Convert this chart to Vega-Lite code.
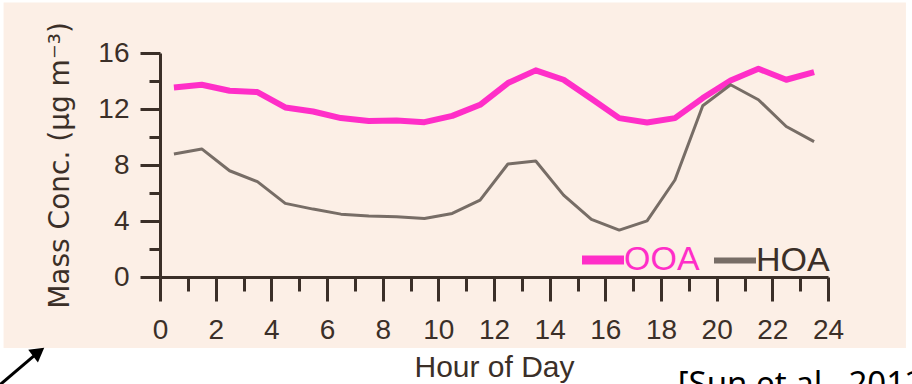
{
  "$schema": "https://vega.github.io/schema/vega-lite/v6.json",
  "width": 668,
  "height": 224,
  "autosize": {"type": "none"},
  "padding": {"left": 160, "top": 53, "right": 84, "bottom": 107},
  "background": "#ffffff",
  "config": {
    "view": {"stroke": null},
    "font": "Liberation Sans",
    "axis": {
      "zindex": 1,
      "grid": false,
      "domainColor": "#3b2f28",
      "domainWidth": 3,
      "tickColor": "#3b2f28",
      "tickWidth": 3,
      "labelColor": "#3b2f28",
      "labelFont": "Liberation Sans",
      "labelFontSize": 28,
      "labelFlush": false,
      "labelOverlap": false,
      "titleColor": "#3b2f28",
      "titleFontWeight": "normal"
    }
  },
  "datasets": {
    "diurnal": [
      {"hour": 0.5, "series": "OOA", "conc": 13.54},
      {"hour": 1.5, "series": "OOA", "conc": 13.73},
      {"hour": 2.5, "series": "OOA", "conc": 13.30},
      {"hour": 3.5, "series": "OOA", "conc": 13.21},
      {"hour": 4.5, "series": "OOA", "conc": 12.11},
      {"hour": 5.5, "series": "OOA", "conc": 11.82},
      {"hour": 6.5, "series": "OOA", "conc": 11.35},
      {"hour": 7.5, "series": "OOA", "conc": 11.15},
      {"hour": 8.5, "series": "OOA", "conc": 11.17},
      {"hour": 9.5, "series": "OOA", "conc": 11.06},
      {"hour": 10.5, "series": "OOA", "conc": 11.51},
      {"hour": 11.5, "series": "OOA", "conc": 12.30},
      {"hour": 12.5, "series": "OOA", "conc": 13.85},
      {"hour": 13.5, "series": "OOA", "conc": 14.76},
      {"hour": 14.5, "series": "OOA", "conc": 14.09},
      {"hour": 15.5, "series": "OOA", "conc": 12.73},
      {"hour": 16.5, "series": "OOA", "conc": 11.35},
      {"hour": 17.5, "series": "OOA", "conc": 11.03},
      {"hour": 18.5, "series": "OOA", "conc": 11.35},
      {"hour": 19.5, "series": "OOA", "conc": 12.78},
      {"hour": 20.5, "series": "OOA", "conc": 14.04},
      {"hour": 21.5, "series": "OOA", "conc": 14.88},
      {"hour": 22.5, "series": "OOA", "conc": 14.09},
      {"hour": 23.5, "series": "OOA", "conc": 14.64},
      {"hour": 0.5, "series": "HOA", "conc": 8.79},
      {"hour": 1.5, "series": "HOA", "conc": 9.15},
      {"hour": 2.5, "series": "HOA", "conc": 7.59},
      {"hour": 3.5, "series": "HOA", "conc": 6.81},
      {"hour": 4.5, "series": "HOA", "conc": 5.26},
      {"hour": 5.5, "series": "HOA", "conc": 4.85},
      {"hour": 6.5, "series": "HOA", "conc": 4.49},
      {"hour": 7.5, "series": "HOA", "conc": 4.35},
      {"hour": 8.5, "series": "HOA", "conc": 4.30},
      {"hour": 9.5, "series": "HOA", "conc": 4.18},
      {"hour": 10.5, "series": "HOA", "conc": 4.54},
      {"hour": 11.5, "series": "HOA", "conc": 5.49},
      {"hour": 12.5, "series": "HOA", "conc": 8.07},
      {"hour": 13.5, "series": "HOA", "conc": 8.29},
      {"hour": 14.5, "series": "HOA", "conc": 5.85},
      {"hour": 15.5, "series": "HOA", "conc": 4.11},
      {"hour": 16.5, "series": "HOA", "conc": 3.35},
      {"hour": 17.5, "series": "HOA", "conc": 4.01},
      {"hour": 18.5, "series": "HOA", "conc": 6.93},
      {"hour": 19.5, "series": "HOA", "conc": 12.23},
      {"hour": 20.5, "series": "HOA", "conc": 13.73},
      {"hour": 21.5, "series": "HOA", "conc": 12.66},
      {"hour": 22.5, "series": "HOA", "conc": 10.75},
      {"hour": 23.5, "series": "HOA", "conc": 9.67}
    ]
  },
  "resolve": {"axis": {"x": "independent", "y": "independent"}},
  "layer": [
    {
      "description": "Peach panel behind the figure, with the minor tick axes",
      "data": {"values": [{"x0": -5.62, "x1": 26.8, "y0": -5.07, "y1": 19.6}]},
      "mark": {"type": "rect", "color": "#fcefe6"},
      "encoding": {
        "x": {
          "field": "x0", "type": "quantitative",
          "scale": {"domain": [0, 24], "nice": false, "zero": false},
          "axis": {"orient": "bottom", "zindex": 2, "values": [1, 3, 5, 7, 9, 11, 13, 15, 17, 19, 21, 23], "tickSize": 14, "labels": false, "domain": false, "title": null}
        },
        "x2": {"field": "x1"},
        "y": {
          "field": "y0", "type": "quantitative",
          "scale": {"domain": [0, 16], "nice": false},
          "axis": {"orient": "left", "zindex": 2, "values": [2, 6, 10, 14], "tickSize": 11, "labels": false, "domain": false, "title": null}
        },
        "y2": {"field": "y1"}
      }
    },
    {
      "description": "OOA diurnal profile, with the major axes",
      "data": {"name": "diurnal"},
      "transform": [{"filter": "datum.series === 'OOA'"}],
      "mark": {"type": "line", "strokeWidth": 6, "strokeJoin": "round"},
      "encoding": {
        "x": {
          "field": "hour", "type": "quantitative",
          "axis": {
            "orient": "bottom", "zindex": 2,
            "values": [0, 2, 4, 6, 8, 10, 12, 14, 16, 18, 20, 22, 24],
            "tickSize": 24, "labelPadding": 15,
            "title": "Hour of Day", "titleFont": "Liberation Sans", "titleFontSize": 30, "titlePadding": 8
          }
        },
        "y": {
          "field": "conc", "type": "quantitative",
          "axis": {
            "orient": "left", "zindex": 2,
            "values": [0, 4, 8, 12, 16],
            "tickSize": 20, "labelPadding": 11,
            "title": "Mass Conc. (µg m⁻³)", "titleFont": "DejaVu Sans", "titleFontSize": 28, "titlePadding": 23
          }
        },
        "color": {
          "field": "series", "type": "nominal",
          "scale": {"domain": ["OOA", "HOA"], "range": ["#ff2ec8", "#776d66"]},
          "legend": {
            "title": null,
            "orient": "none",
            "legendX": 426,
            "legendY": 190,
            "direction": "horizontal",
            "padding": 0,
            "symbolType": "stroke",
            "symbolSize": 1764,
            "symbolStrokeWidth": 8,
            "labelFont": "Liberation Sans",
            "labelFontSize": 34,
            "labelOffset": 4,
            "columnPadding": 2,
            "encode": {
              "labels": {"update": {"fill": {"signal": "datum.value === 'OOA' ? '#ff2ec8' : '#3b2f28'"}}},
              "symbols": {"update": {"strokeWidth": {"signal": "datum.value === 'OOA' ? 9 : 6"}}}
            }
          }
        }
      }
    },
    {
      "description": "HOA diurnal profile",
      "data": {"name": "diurnal"},
      "transform": [{"filter": "datum.series === 'HOA'"}],
      "mark": {"type": "line", "strokeWidth": 3, "strokeJoin": "round"},
      "encoding": {
        "x": {"field": "hour", "type": "quantitative", "axis": null},
        "y": {"field": "conc", "type": "quantitative", "axis": null},
        "color": {"field": "series", "type": "nominal"}
      }
    },
    {
      "description": "Pointer arrow shaft",
      "data": {"values": [{"x0": -5.75, "y0": -7.7, "x1": -4.36, "y1": -5.35}]},
      "mark": {"type": "rule", "color": "#000000", "strokeWidth": 3},
      "encoding": {
        "x": {"field": "x0", "type": "quantitative", "axis": null},
        "y": {"field": "y0", "type": "quantitative", "axis": null},
        "x2": {"field": "x1"},
        "y2": {"field": "y1"}
      }
    },
    {
      "description": "Pointer arrow head",
      "data": {"values": [{"x": -4.36, "y": -5.35}]},
      "mark": {"type": "point", "shape": "triangle-up", "filled": true, "color": "#000000", "size": 260, "angle": 53, "opacity": 1},
      "encoding": {
        "x": {"field": "x", "type": "quantitative", "axis": null},
        "y": {"field": "y", "type": "quantitative", "axis": null}
      }
    },
    {
      "description": "Source citation",
      "data": {"values": [{"x": 18.6, "y": -6.55, "label": "[Sun et al., 2012]"}]},
      "mark": {"type": "text", "align": "left", "baseline": "top", "font": "Noto Sans", "fontSize": 33, "color": "#000000"},
      "encoding": {
        "x": {"field": "x", "type": "quantitative", "axis": null},
        "y": {"field": "y", "type": "quantitative", "axis": null},
        "text": {"field": "label"}
      }
    }
  ]
}
